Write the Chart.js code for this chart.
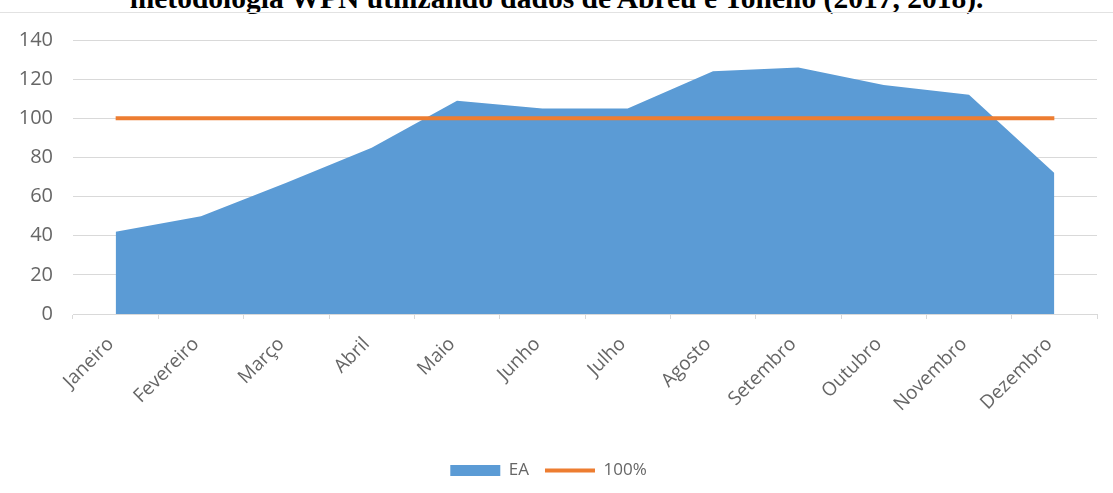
<!DOCTYPE html>
<html>
<head>
<meta charset="utf-8">
<script src="https://cdn.jsdelivr.net/npm/chart.js@4.4.1/dist/chart.umd.min.js"></script>
<style>
  html, body { margin: 0; padding: 0; background: #fff; }
  #wrap { position: relative; width: 1113px; height: 493px; overflow: hidden; }
  #title {
    position: absolute; left: 0; width: 1113px; top: -14px;
    text-align: center; white-space: nowrap;
    font-family: "Liberation Serif", serif; font-weight: bold;
    font-size: 25px; line-height: 25px; color: #000;
  }
  #rule { position: absolute; left: 0; top: 12px; width: 1113px; height: 1px; background: #e2e2e2; }
  #chart { position: absolute; left: 0; top: 0; }
</style>
</head>
<body>
<div id="wrap">
  <div id="title">metodologia WPN utilizando dados de Abreu e Tonello (2017, 2018).</div>
  <div id="rule"></div>
  <canvas id="chart" width="1113" height="493"></canvas>
</div>
<script>
const months = ["Janeiro", "Fevereiro", "Março", "Abril", "Maio", "Junho",
  "Julho", "Agosto", "Setembro", "Outubro", "Novembro", "Dezembro"];
const eaValues = [42, 50, 67, 85, 109, 105, 105, 124, 126, 117, 112, 72];
const refValues = [100, 100, 100, 100, 100, 100, 100, 100, 100, 100, 100, 100];
const yTicks = [0, 20, 40, 60, 80, 100, 120, 140];

// fit title width to the picture
const title = document.getElementById("title");
const m = document.createElement("canvas").getContext("2d");
m.font = "bold 100px 'Liberation Serif'";
const w = m.measureText(title.textContent).width;
const fs = 100 * 857 / w;
title.style.fontSize = fs.toFixed(1) + "px";
title.style.lineHeight = fs.toFixed(1) + "px";
title.style.top = (10 - fs * 0.891).toFixed(1) + "px";

const gridColor = "#d9d9d9";
const textColor = "#666666";
const font = "'Open Sans', sans-serif";

const ctx = document.getElementById("chart").getContext("2d");
new Chart(ctx, {
  type: "line",
  data: {
    labels: months,
    datasets: [
      {
        label: "EA",
        data: eaValues,
        backgroundColor: "#5b9bd5",
        borderColor: "#5b9bd5",
        borderWidth: 0,
        fill: "origin",
        pointRadius: 0,
        pointStyle: "rect",
        tension: 0,
        order: 2,
      },
      {
        label: "100%",
        data: refValues,
        borderColor: "#ed7d31",
        backgroundColor: "#ed7d31",
        borderWidth: 4,
        fill: false,
        pointRadius: 0,
        pointStyle: "line",
        order: 1,
      },
    ],
  },
  options: {
    responsive: false,
    animation: false,
    layout: { padding: { top: 40, left: 0, right: 16, bottom: 4 } },
    plugins: {
      tooltip: { enabled: false },
      legend: {
        position: "bottom",
        labels: {
          usePointStyle: true,
          pointStyleWidth: 50,
          boxHeight: 11,
          padding: 16,
          color: textColor,
          font: { family: font, size: 17 },
          sort: (a, b) => a.datasetIndex - b.datasetIndex,
        },
      },
    },
    scales: {
      x: {
        offset: true,
        grid: {
          offset: true,
          drawOnChartArea: false,
          color: gridColor,
          tickLength: 5,
        },
        border: { color: gridColor },
        ticks: {
          minRotation: 45,
          maxRotation: 45,
          padding: 14,
          labelOffset: -5,
          color: textColor,
          font: { family: font, size: 19 },
        },
        afterFit: (s) => { s.height = 132; },
      },
      y: {
        min: 0,
        max: 140,
        afterBuildTicks: (s) => { s.ticks = yTicks.map((v) => ({ value: v })); },
        grid: { color: gridColor, drawTicks: false },
        border: { display: false },
        ticks: {
          padding: 20,
          color: textColor,
          font: { family: font, size: 20 },
        },
        afterFit: (s) => { s.width = 73; },
      },
    },
  },
});
</script>
</body>
</html>
